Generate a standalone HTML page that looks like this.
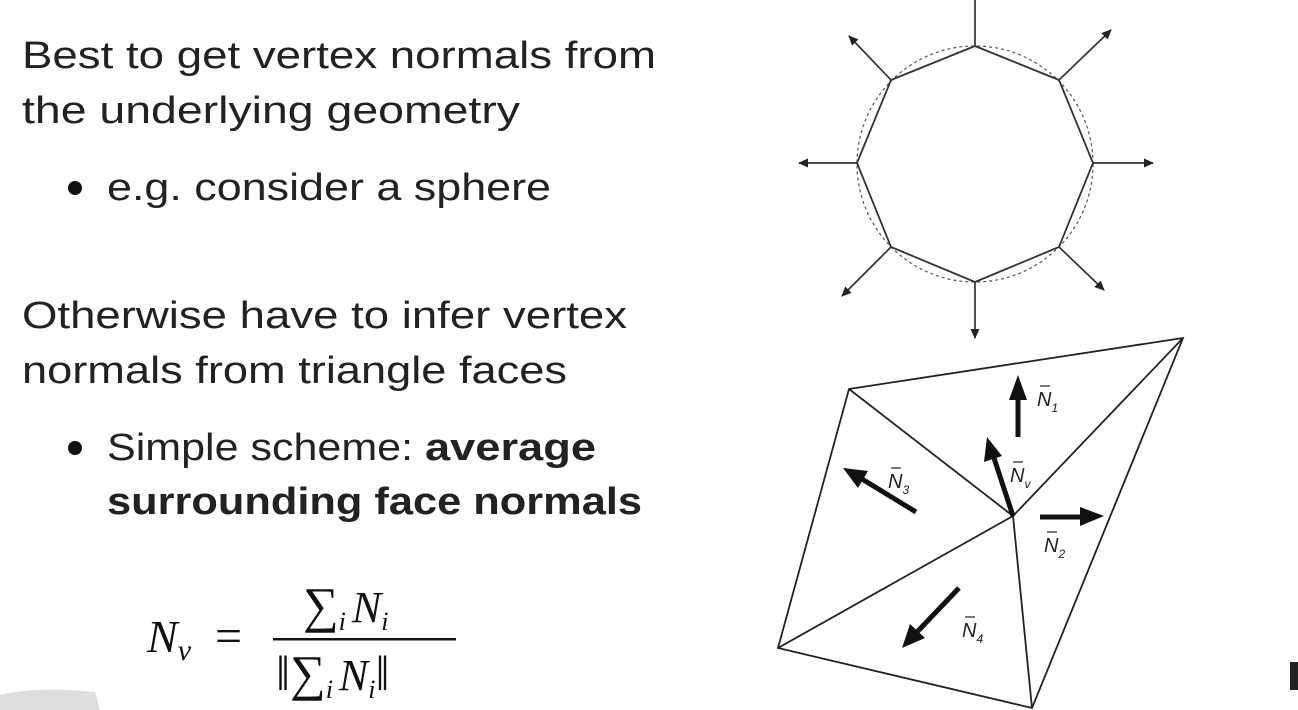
<!DOCTYPE html>
<html><head><meta charset="utf-8"><style>
html,body{margin:0;padding:0;background:#fff;width:1298px;height:710px;overflow:hidden}
svg{display:block}
.t{font-family:"Liberation Sans",sans-serif;font-size:38px;fill:#222}
.m{font-family:"Liberation Serif",serif;font-style:italic;fill:#111}
.r{font-family:"Liberation Serif",serif;fill:#111}
.lbl{font-family:"Liberation Sans",sans-serif;font-style:italic;font-size:20px;fill:#222}
.sub{font-family:"Liberation Sans",sans-serif;font-size:12px;fill:#222}
</style></head><body>
<svg width="1298" height="710" viewBox="0 0 1298 710">
<defs>
<marker id="ah" markerWidth="10" markerHeight="9" refX="9" refY="4.5" orient="auto" markerUnits="userSpaceOnUse"><path d="M0,0 L10,4.5 L0,9 z" fill="#222"/></marker>
</defs>
<g>
<text class="t" x="22" y="68" textLength="634" lengthAdjust="spacingAndGlyphs">Best to get vertex normals from</text>
<text class="t" x="22" y="123" textLength="498" lengthAdjust="spacingAndGlyphs">the underlying geometry</text>
<circle cx="75" cy="188" r="7" fill="#111"/>
<text class="t" x="107" y="200" textLength="444" lengthAdjust="spacingAndGlyphs">e.g. consider a sphere</text>
<text class="t" x="22" y="328" textLength="605" lengthAdjust="spacingAndGlyphs">Otherwise have to infer vertex</text>
<text class="t" x="22" y="383" textLength="545" lengthAdjust="spacingAndGlyphs">normals from triangle faces</text>
<circle cx="75" cy="448" r="7" fill="#111"/>
<text class="t" x="107" y="460"><tspan textLength="318" lengthAdjust="spacingAndGlyphs">Simple scheme: </tspan><tspan font-weight="bold" textLength="171" lengthAdjust="spacingAndGlyphs">average</tspan></text>
<text class="t" x="107" y="514" font-weight="bold" textLength="535" lengthAdjust="spacingAndGlyphs">surrounding face normals</text>
</g>
<g>
<text class="m" x="147" y="652" font-size="46">N<tspan font-size="30" dy="8">v</tspan></text>
<text class="r" x="215" y="652" font-size="48">=</text>
<text class="r" x="303" y="622" font-size="50">∑<tspan class="m" font-size="26" dy="8">i</tspan><tspan class="m" font-size="44" dy="-8" dx="6">N</tspan><tspan class="m" font-size="26" dy="8">i</tspan></text>
<rect x="273" y="638" width="183" height="2.5" fill="#111"/>
<text class="r" x="276" y="690" font-size="50">‖∑<tspan class="m" font-size="26" dy="8">i</tspan><tspan class="m" font-size="44" dy="-8" dx="6">N</tspan><tspan class="m" font-size="26" dy="8">i</tspan><tspan dy="-8">‖</tspan></text>
</g>
<g stroke="#333" fill="none">
<circle cx="975" cy="164" r="118" stroke="#555" stroke-width="1.2" stroke-dasharray="3,3"/>
<polygon points="975,46 1059,80 1093,163 1059,247 975,282 891,247 857,163 891,80" stroke-width="1.8"/>
<g stroke-width="1.7">
<line x1="975" y1="46" x2="975" y2="0"/>
<line x1="1059" y1="80" x2="1111" y2="30" marker-end="url(#ah)"/>
<line x1="1093" y1="163" x2="1153" y2="163" marker-end="url(#ah)"/>
<line x1="1059" y1="247" x2="1104" y2="290" marker-end="url(#ah)"/>
<line x1="975" y1="282" x2="975" y2="338" marker-end="url(#ah)"/>
<line x1="891" y1="247" x2="842" y2="296" marker-end="url(#ah)"/>
<line x1="857" y1="163" x2="799" y2="163" marker-end="url(#ah)"/>
<line x1="891" y1="80" x2="849" y2="36" marker-end="url(#ah)"/>
</g>
</g>
<g>
<g stroke="#222" stroke-width="1.8" fill="none">
<polygon points="849,389 1183,338 1032,708 778,648"/>
<line x1="1013" y1="516" x2="849" y2="389"/>
<line x1="1013" y1="516" x2="1183" y2="338"/>
<line x1="1013" y1="516" x2="778" y2="648"/>
<line x1="1013" y1="516" x2="1032" y2="708"/>
</g>
<g fill="#111">
<line x1="1018" y1="437" x2="1018" y2="398" stroke="#111" stroke-width="5"/><polygon points="1018,375 1009,400 1027,400"/>
<line x1="1013" y1="516" x2="994" y2="458" stroke="#111" stroke-width="5"/><polygon points="987,437 984,462 1002,456"/>
<line x1="916" y1="512" x2="862" y2="479" stroke="#111" stroke-width="5"/><polygon points="843,468 858,488 868,471"/>
<line x1="1040" y1="517" x2="1082" y2="517" stroke="#111" stroke-width="5"/><polygon points="1104,516 1080,507 1080,526"/>
<line x1="959" y1="588" x2="917" y2="632" stroke="#111" stroke-width="5"/><polygon points="902,648 910,624 925,638"/>
</g>
<text class="lbl" x="1037" y="406">N<tspan class="sub" dy="6">1</tspan></text>
<text class="lbl" x="1010" y="482">N<tspan class="sub" dy="6">v</tspan></text>
<text class="lbl" x="888" y="488">N<tspan class="sub" dy="6">3</tspan></text>
<text class="lbl" x="1044" y="552">N<tspan class="sub" dy="6">2</tspan></text>
<text class="lbl" x="962" y="637">N<tspan class="sub" dy="6">4</tspan></text>
<g stroke="#222" stroke-width="1.2">
<line x1="1040" y1="386" x2="1050" y2="386"/><line x1="1013" y1="462" x2="1023" y2="462"/>
<line x1="891" y1="468" x2="901" y2="468"/><line x1="1047" y1="532" x2="1057" y2="532"/>
<line x1="965" y1="617" x2="975" y2="617"/>
</g>
</g>
<path d="M0,695 Q40,686 95,692 L100,710 L0,710 z" fill="#ddd"/>
<rect x="1290" y="662" width="8" height="28" fill="#222"/>
</svg>
</body></html>
